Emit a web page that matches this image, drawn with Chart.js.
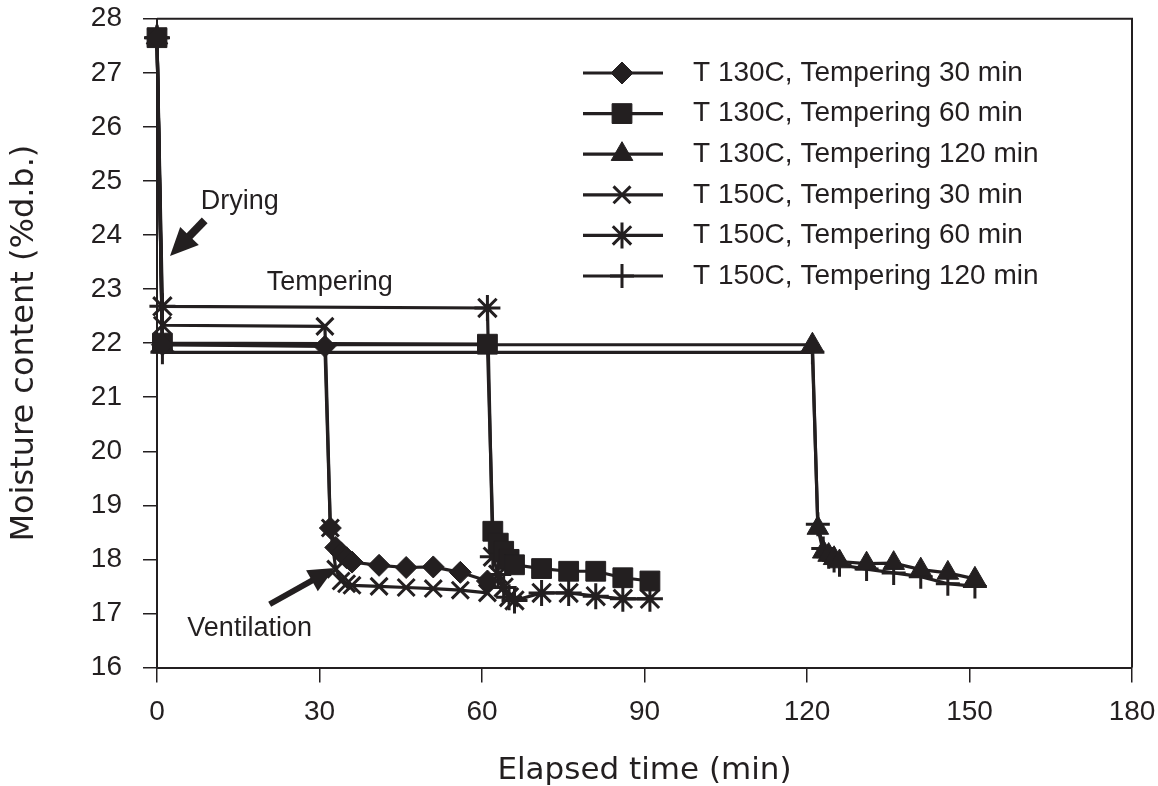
<!DOCTYPE html>
<html>
<head>
<meta charset="utf-8">
<script src="https://cdn.jsdelivr.net/npm/chart.js@4.4.1/dist/chart.umd.min.js"></script>
<style>
html,body{margin:0;padding:0;background:#ffffff;}
#wrap{width:1158px;height:786px;}
</style>
</head>
<body>
<div id="wrap"><canvas id="c" width="1158" height="786"></canvas></div>
<script>
// ---------- data ----------
const xTicks = [0, 30, 60, 90, 120, 150, 180];
const yTicks = [16, 17, 18, 19, 20, 21, 22, 23, 24, 25, 26, 27, 28];

const seriesLabels = [
  'T 130C, Tempering 30 min',
  'T 130C, Tempering 60 min',
  'T 130C, Tempering 120 min',
  'T 150C, Tempering 30 min',
  'T 150C, Tempering 60 min',
  'T 150C, Tempering 120 min'
];

const t130_30_x = [0, 1, 31, 32, 33, 34, 35, 36, 41, 46, 51, 56, 61];
const t130_30_y = [27.65, 21.97, 21.94, 18.58, 18.22, 18.12, 18.03, 17.95, 17.89, 17.85, 17.86, 17.76, 17.6];

const t130_60_x = [0, 1, 61, 62, 63, 64, 65, 66, 71, 76, 81, 86, 91];
const t130_60_y = [27.65, 22.0, 21.98, 18.52, 18.3, 18.15, 18.0, 17.9, 17.83, 17.78, 17.78, 17.66, 17.6];

const t130_120_x = [0, 1, 121, 122, 123, 124, 125, 126, 131, 136, 141, 146, 151];
const t130_120_y = [27.65, 21.97, 21.97, 18.58, 18.14, 18.08, 18.02, 17.96, 17.92, 17.93, 17.81, 17.75, 17.64];

const t150_30_x = [0, 1, 31, 32, 33, 34, 35, 36, 41, 46, 51, 56, 61];
const t150_30_y = [27.65, 22.33, 22.31, 18.58, 17.82, 17.6, 17.55, 17.52, 17.5, 17.48, 17.46, 17.43, 17.38];

const t150_60_x = [0, 1, 61, 62, 63, 64, 65, 66, 71, 76, 81, 86, 91];
const t150_60_y = [27.65, 22.68, 22.65, 18.05, 17.72, 17.48, 17.3, 17.24, 17.38, 17.38, 17.32, 17.27, 17.27];

const t150_120_x = [0, 1, 121, 122, 123, 124, 125, 126, 131, 136, 141, 146, 151];
const t150_120_y = [27.65, 21.83, 21.83, 18.65, 18.2, 18.05, 17.98, 17.9, 17.82, 17.75, 17.68, 17.55, 17.5];

// annotation anchors in data units (min, %d.b.)
const noteDrying = { text: 'Drying', x: 15.3, y: 24.62 };
const noteTempering = { text: 'Tempering', x: 31.9, y: 23.12 };
const noteVentilation = { text: 'Ventilation', x: 17.1, y: 16.72 };
const arrowDrying = { x0: 8.8, y0: 24.27, x1: 2.4, y1: 23.61 };
const arrowVentilation = { x0: 20.8, y0: 17.17, x1: 32.8, y1: 17.84 };

// ---------- styling ----------
const INK = '#231f20';
const TICK_FONT = "'Liberation Sans Narrow', 'Liberation Sans', Arial, sans-serif";
const NOTE_FONT = "'Liberation Sans', Arial, sans-serif";
const TITLE_FONT = "'DejaVu Sans', sans-serif";

function pts(xs, ys) { return xs.map((x, i) => ({ x: x, y: ys[i] })); }

function makeSet(label, xs, ys, style, radius, bw) {
  return {
    label: label,
    data: pts(xs, ys),
    borderColor: INK,
    backgroundColor: INK,
    pointBackgroundColor: INK,
    pointBorderColor: INK,
    borderWidth: 3.2,
    tension: 0,
    pointStyle: style,
    pointRadius: radius,
    pointHoverRadius: radius,
    pointBorderWidth: bw,
    clip: false
  };
}

const datasets = [
  makeSet(seriesLabels[0], t130_30_x, t130_30_y, 'rectRot', 11, 1),
  makeSet(seriesLabels[1], t130_60_x, t130_60_y, 'rect', 14, 1),
  makeSet(seriesLabels[2], t130_120_x, t130_120_y, 'triangle', 12.5, 1),
  makeSet(seriesLabels[3], t150_30_x, t150_30_y, 'crossRot', 12, 3),
  makeSet(seriesLabels[4], t150_60_x, t150_60_y, 'star', 13, 3),
  makeSet(seriesLabels[5], t150_120_x, t150_120_y, 'cross', 12, 3)
];

// frame (top and right edges of the plot box)
const framePlugin = {
  id: 'frame',
  beforeDatasetsDraw(chart) {
    const { ctx, chartArea: a } = chart;
    ctx.save();
    ctx.strokeStyle = INK;
    ctx.lineWidth = 2;
    ctx.beginPath();
    ctx.moveTo(a.left, a.top);
    ctx.lineTo(a.right, a.top);
    ctx.lineTo(a.right, a.bottom);
    ctx.stroke();
    ctx.restore();
  }
};

function drawArrow(ctx, x0, y0, x1, y1, shaftW, headL, headW) {
  const ang = Math.atan2(y1 - y0, x1 - x0);
  const bx = x1 - Math.cos(ang) * headL;
  const by = y1 - Math.sin(ang) * headL;
  ctx.save();
  ctx.strokeStyle = INK;
  ctx.fillStyle = INK;
  ctx.lineWidth = shaftW;
  ctx.lineCap = 'butt';
  ctx.beginPath();
  ctx.moveTo(x0, y0);
  ctx.lineTo(bx + Math.cos(ang) * 2, by + Math.sin(ang) * 2);
  ctx.stroke();
  const nx = -Math.sin(ang), ny = Math.cos(ang);
  ctx.beginPath();
  ctx.moveTo(x1, y1);
  ctx.lineTo(bx + nx * headW / 2, by + ny * headW / 2);
  ctx.lineTo(bx - nx * headW / 2, by - ny * headW / 2);
  ctx.closePath();
  ctx.fill();
  ctx.restore();
}

const notesPlugin = {
  id: 'notes',
  afterDatasetsDraw(chart) {
    const { ctx, scales } = chart;
    const X = v => scales.x.getPixelForValue(v);
    const Y = v => scales.y.getPixelForValue(v);
    ctx.save();
    ctx.fillStyle = INK;
    ctx.font = '27px ' + NOTE_FONT;
    ctx.textAlign = 'center';
    ctx.textBaseline = 'middle';
    [noteDrying, noteTempering, noteVentilation].forEach(n => {
      ctx.fillText(n.text, X(n.x), Y(n.y));
    });
    ctx.restore();
    drawArrow(ctx, X(arrowDrying.x0), Y(arrowDrying.y0), X(arrowDrying.x1), Y(arrowDrying.y1), 8, 28, 26);
    drawArrow(ctx, X(arrowVentilation.x0), Y(arrowVentilation.y0), X(arrowVentilation.x1), Y(arrowVentilation.y1), 6, 26, 24);
  }
};

const LEGEND_TOP = 73;
const LEGEND_STEP = 40.6;
const legendPlugin = {
  id: 'customLegend',
  afterDraw(chart) {
    const ctx = chart.ctx;
    ctx.save();
    chart.data.datasets.forEach((ds, i) => {
      const y = LEGEND_TOP + i * LEGEND_STEP;
      ctx.strokeStyle = INK;
      ctx.fillStyle = INK;
      ctx.lineWidth = 3.2;
      ctx.beginPath();
      ctx.moveTo(583, y);
      ctx.lineTo(663, y);
      ctx.stroke();
      ctx.lineWidth = ds.pointBorderWidth;
      Chart.helpers.drawPoint(ctx, {
        pointStyle: ds.pointStyle,
        radius: ds.pointRadius,
        borderWidth: ds.pointBorderWidth,
        rotation: 0
      }, 622, y);
      ctx.font = '28px ' + NOTE_FONT;
      ctx.textAlign = 'left';
      ctx.textBaseline = 'middle';
      ctx.fillText(ds.label, 693, y);
    });
    ctx.restore();
  }
};

new Chart(document.getElementById('c'), {
  type: 'line',
  data: { datasets: datasets },
  options: {
    responsive: false,
    animation: false,
    devicePixelRatio: 1,
    events: [],
    layout: { padding: { left: 0, right: 26, top: 18.75, bottom: 0 } },
    plugins: { legend: { display: false }, tooltip: { enabled: false } },
    scales: {
      x: {
        type: 'linear',
        min: xTicks[0],
        max: xTicks[xTicks.length - 1],
        afterBuildTicks: s => { s.ticks = xTicks.map(v => ({ value: v })); },
        afterFit: s => { s.height = 786 - 667.5; s.paddingLeft = 0; s.paddingRight = 0; },
        grid: { display: true, drawOnChartArea: false, drawTicks: true, tickLength: 15, color: INK, lineWidth: 1.5 },
        border: { display: true, color: INK, width: 2 },
        ticks: { color: INK, font: { family: TICK_FONT, size: 28 }, padding: 13, maxRotation: 0 },
        title: {
          display: true,
          text: 'Elapsed time (min)',
          color: INK,
          font: { family: TITLE_FONT, size: 31, lineHeight: 1.0 },
          padding: { top: 0, bottom: 0 }
        }
      },
      y: {
        type: 'linear',
        min: yTicks[0],
        max: yTicks[yTicks.length - 1],
        afterBuildTicks: s => { s.ticks = yTicks.map(v => ({ value: v })); },
        afterFit: s => { s.width = 157; s.paddingTop = 0; s.paddingBottom = 0; },
        grid: { display: true, drawOnChartArea: false, drawTicks: true, tickLength: 14, color: INK, lineWidth: 1.5 },
        border: { display: true, color: INK, width: 2 },
        ticks: { color: INK, font: { family: TICK_FONT, size: 28 }, padding: 21 },
        title: {
          display: true,
          text: 'Moisture content (%d.b.)',
          color: INK,
          font: { family: TITLE_FONT, size: 32, lineHeight: 1.2 },
          padding: { top: 5, bottom: 0 }
        }
      }
    }
  },
  plugins: [framePlugin, notesPlugin, legendPlugin]
});
</script>
</body>
</html>
